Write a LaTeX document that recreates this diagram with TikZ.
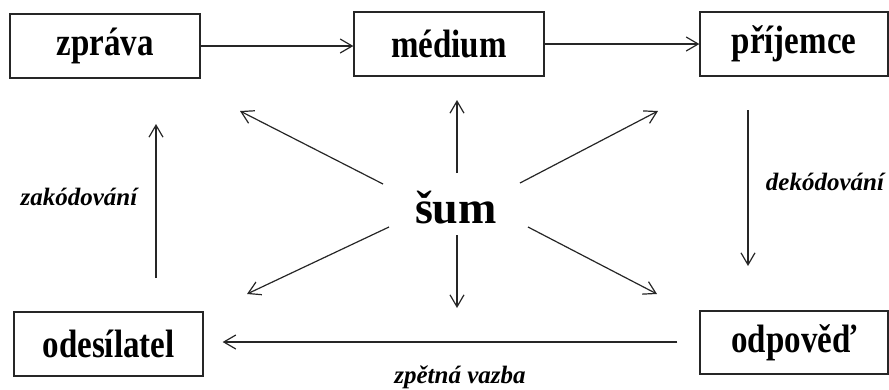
\documentclass[tikz,border=0pt]{standalone}
\usepackage{fontspec}
\usepackage{graphicx}
\setmainfont{Liberation Serif}
\usetikzlibrary{arrows.meta}
\begin{document}
\begin{tikzpicture}[x=1pt,y=-1pt,
  box/.style={draw=black!85, line width=1.3pt, minimum width=190pt, minimum height=64pt, inner sep=0pt, font=\fontsize{33}{36}\selectfont\bfseries},
  lbl/.style={font=\fontsize{25}{28}\selectfont\bfseries\itshape, inner sep=0pt},
  arr/.style={draw=black!85, line width=1.2pt, -{Straight Barb[length=12pt,width=14pt]}}]
\useasboundingbox (0,0) rectangle (889,389);
% boxes
\node[box] (zprava) at (105,46) {\scalebox{1}[1.2]{zpráva}};
\node[box] (medium) at (449,44) {\scalebox{1}[1.2]{médium}};
\node[box, minimum width=188pt] (prijemce) at (794,44) {\scalebox{1}[1.2]{příjemce}};
\node[box, minimum width=189pt] (odesilatel) at (108.5,344) {\scalebox{1}[1.2]{odesílatel}};
\node[box, minimum width=188pt, minimum height=63pt] (odpoved) at (794,342.5) {\scalebox{1}[1.2]{odpověď}};
% centre
\node[font=\fontsize{46}{50}\selectfont\bfseries, inner sep=0pt, anchor=base] (sum) at (456,223) {šum};
% labels
\node[lbl] (zak) at (79,197) {zakódování};
\node[lbl] (dek) at (825,182) {dekódování};
\node[lbl] (zv) at (460,377) {zpětná vazba};
% top arrows
\draw[arr] (zprava.east) -- (zprava.east -| medium.west);
\draw[arr] (medium.east) -- (medium.east -| prijemce.west);
% feedback
\draw[arr, shorten <=22pt, shorten >=19pt] (odpoved.west |- 0,342) -- (odesilatel.east |- 0,342);
% vertical arrows
\coordinate (zakA) at (156,278);
\coordinate (zakB) at (156,124);
\draw[arr] (zakA) -- (zakB);
\coordinate (dekA) at (748,110);
\coordinate (dekB) at (748,266);
\draw[arr] (dekA) -- (dekB);
% noise arrows
\coordinate (uS) at (457,173); \coordinate (uE) at (457,100);
\coordinate (dS) at (457,235); \coordinate (dE) at (457,308);
\coordinate (ulS) at (383,184); \coordinate (ulE) at (240,111);
\coordinate (urS) at (520,183); \coordinate (urE) at (658,111);
\coordinate (llS) at (389,227); \coordinate (llE) at (247,294);
\coordinate (lrS) at (528,227); \coordinate (lrE) at (657,294);
\draw[arr] (uS) -- (uE);
\draw[arr] (dS) -- (dE);
\draw[arr] (ulS) -- (ulE);
\draw[arr] (urS) -- (urE);
\draw[arr] (llS) -- (llE);
\draw[arr] (lrS) -- (lrE);
\end{tikzpicture}
\end{document}
